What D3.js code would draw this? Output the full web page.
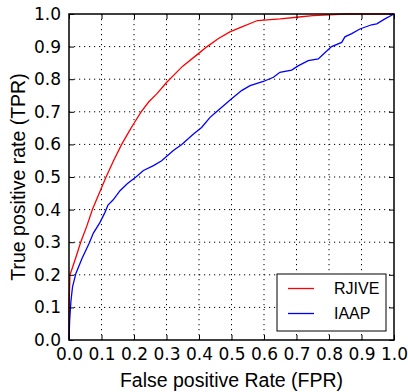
<!DOCTYPE html>
<html>
<head>
<meta charset="utf-8">
<script src="https://cdn.jsdelivr.net/npm/d3@7"></script>
<style>
  body { margin: 0; background: #fff; }
  svg { display: block; }
</style>
</head>
<body>
<svg id="chart"></svg>
<script>
const width = 408
const height = 392

// ROC points, [fpr, tpr]
const rjive = [
  [0, 0], [0, 0.1], [0.003, 0.2], [0.01, 0.22], [0.02, 0.25], [0.036, 0.3],
  [0.055, 0.35], [0.072, 0.4], [0.093, 0.45], [0.114, 0.5], [0.137, 0.55],
  [0.162, 0.6], [0.185, 0.64], [0.2, 0.665], [0.222, 0.7], [0.245, 0.73],
  [0.27, 0.755], [0.3, 0.79], [0.35, 0.84], [0.4, 0.88], [0.425, 0.9],
  [0.46, 0.925], [0.495, 0.945], [0.53, 0.96], [0.58, 0.98], [0.65, 0.985],
  [0.7, 0.99], [0.75, 0.995], [0.85, 1.0], [1, 1]
]
const iaap = [
  [0, 0], [0.002, 0.06], [0.006, 0.12], [0.011, 0.164], [0.0215, 0.205],
  [0.04, 0.25], [0.062, 0.297], [0.075, 0.328], [0.095, 0.36], [0.11, 0.39],
  [0.12, 0.414], [0.136, 0.43], [0.157, 0.458], [0.18, 0.48], [0.206, 0.5],
  [0.229, 0.52], [0.26, 0.535], [0.285, 0.55], [0.321, 0.581], [0.347, 0.6],
  [0.383, 0.632], [0.408, 0.652], [0.434, 0.683], [0.454, 0.7], [0.493, 0.734],
  [0.531, 0.765], [0.557, 0.78], [0.598, 0.793], [0.629, 0.806], [0.649, 0.821],
  [0.685, 0.828], [0.705, 0.841], [0.736, 0.857], [0.767, 0.862], [0.788, 0.882],
  [0.808, 0.9], [0.839, 0.913], [0.849, 0.93], [0.87, 0.94], [0.895, 0.954],
  [0.931, 0.967], [0.947, 0.97], [0.972, 0.985], [1, 1]
]
const tickValues = d3.range(0, 11).map(i => i / 10)
const seriesNames = ['RJIVE', 'IAAP']
const seriesColors = ['#ff0000', '#0000ff']

const margin = { top: 14, right: 14, bottom: 52, left: 69 }
const plotW = width - margin.left - margin.right
const plotH = height - margin.top - margin.bottom

const x = d3.scaleLinear().domain([0, 1]).range([0, plotW])
const y = d3.scaleLinear().domain([0, 1]).range([plotH, 0])

const svg = d3.select('#chart').attr('width', width).attr('height', height)
const g = svg.append('g').attr('transform', `translate(${margin.left},${margin.top})`)

// grid
const grid = g.append('g').attr('stroke', '#000').attr('stroke-width', 1)
  .attr('stroke-dasharray', '1.2,3.8')
grid.selectAll('.vx').data(tickValues.slice(1, -1)).enter().append('line')
  .attr('x1', d => x(d)).attr('x2', d => x(d)).attr('y1', 0).attr('y2', plotH)
grid.selectAll('.hy').data(tickValues.slice(1, -1)).enter().append('line')
  .attr('y1', d => y(d)).attr('y2', d => y(d)).attr('x1', 0).attr('x2', plotW)

// curves
const line = d3.line().x(d => x(d[0])).y(d => y(d[1]))
;[rjive, iaap].forEach((s, i) => {
  g.append('path').datum(s)
    .attr('fill', 'none')
    .attr('stroke', seriesColors[i])
    .attr('stroke-width', 1.3)
    .attr('d', line)
})

// axes with inward ticks on all four sides
const tickFont = 'DejaVu Sans, sans-serif'
const xAxis = g.append('g').attr('transform', `translate(0,${plotH})`)
  .call(d3.axisBottom(x).tickValues(tickValues).tickFormat(d3.format('.1f')).tickSizeInner(-5).tickSizeOuter(0).tickPadding(8))
const yAxis = g.append('g')
  .call(d3.axisLeft(y).tickValues(tickValues).tickFormat(d3.format('.1f')).tickSizeInner(-5).tickSizeOuter(0).tickPadding(8))
const xTop = g.append('g')
  .call(d3.axisTop(x).tickValues(tickValues).tickFormat('').tickSizeInner(-5).tickSizeOuter(0))
const yRight = g.append('g').attr('transform', `translate(${plotW},0)`)
  .call(d3.axisRight(y).tickValues(tickValues).tickFormat('').tickSizeInner(-5).tickSizeOuter(0))
;[xAxis, yAxis, xTop, yRight].forEach(a => {
  a.select('.domain').remove()
  a.selectAll('.tick line').attr('stroke', '#000').attr('stroke-width', 1)
  a.selectAll('text').attr('fill', '#000').style('font-family', tickFont).style('font-size', '17px')
})

// frame
g.append('rect').attr('width', plotW).attr('height', plotH)
  .attr('fill', 'none').attr('stroke', '#000').attr('stroke-width', 1.5)

// axis labels
const labelFont = 'Liberation Sans, Arial, sans-serif'
svg.append('text')
  .attr('x', margin.left + plotW / 2).attr('y', 387)
  .attr('text-anchor', 'middle')
  .style('font-family', labelFont).style('font-size', '19.5px')
  .text('False positive Rate (FPR)')
svg.append('text')
  .attr('transform', `translate(25,${margin.top + plotH / 2}) rotate(-90)`)
  .attr('text-anchor', 'middle')
  .style('font-family', labelFont).style('font-size', '19.5px')
  .text('True positive rate (TPR)')

// legend
const legend = svg.append('g').attr('transform', 'translate(277,274)')
legend.append('rect').attr('width', 109).attr('height', 57)
  .attr('fill', '#fff').attr('stroke', '#000').attr('stroke-width', 1)
seriesNames.forEach((name, i) => {
  const ly = 14.5 + i * 25
  legend.append('line').attr('x1', 11).attr('x2', 37).attr('y1', ly).attr('y2', ly)
    .attr('stroke', seriesColors[i]).attr('stroke-width', 1.3)
  legend.append('text').attr('x', 57).attr('y', ly).attr('dy', '0.36em')
    .style('font-family', labelFont).style('font-size', '16px')
    .text(name)
})
</script>
</body>
</html>
